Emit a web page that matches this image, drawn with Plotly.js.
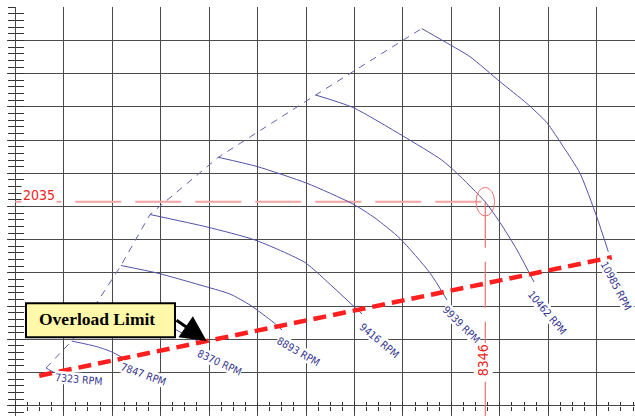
<!DOCTYPE html>
<html><head><meta charset="utf-8">
<script src="https://cdn.plot.ly/plotly-3.0.1.min.js"></script>
<style>html,body{margin:0;padding:0;background:#fff}#chart{width:635px;height:416px}</style>
</head><body><div id="chart"></div>
<script>
// ---- data (grid units: x = flow divisions, y = head divisions) ----
const speedLabels = ['7323 RPM','7847 RPM','8370 RPM','8893 RPM','9416 RPM','9939 RPM','10462 RPM','10985 RPM'];
const flow7323  = [0.634, 0.716, 0.799];
const head7323  = [1.136, 1.066, 1.000];
const flow7847  = [1.164, 1.686, 1.996, 2.224];
const head7847  = [1.949, 1.777, 1.617, 1.437];
const flow8370  = [1.666, 2.367, 2.987, 3.399, 3.812, 3.895];
const head8370  = [3.063, 2.822, 2.551, 2.220, 1.919, 1.873];
const flow8893  = [2.182, 2.925, 3.812, 4.431, 4.844, 5.319, 5.505];
const head8893  = [4.223, 3.997, 3.636, 3.364, 3.033, 2.521, 2.280];
const flow9416  = [2.780, 3.957, 4.947, 5.979, 6.557, 6.846, 7.156];
const head9416  = [5.759, 5.383, 4.991, 4.313, 3.575, 3.184, 2.762];
const flow9939  = [4.190, 4.989, 6.021, 6.970, 7.424, 7.940, 8.559, 8.910];
const head9939  = [7.482, 7.205, 6.699, 6.075, 5.654, 5.036, 3.997, 3.184];
const flow10462 = [6.200, 6.970, 8.002, 8.801, 9.110, 9.695, 10.004, 10.355, 10.706];
const head10462 = [9.358, 8.982, 8.123, 7.401, 7.009, 6.145, 5.518, 4.690, 3.726];
const flow10985 = [8.388, 8.801, 9.385, 10.004, 10.555, 10.968, 11.311, 11.655, 12.000, 12.239];
const head10985 = [11.361, 11.015, 10.512, 9.759, 9.108, 8.530, 7.801, 7.000, 5.693, 4.639];
const overloadFlow = [0.495, 12.310];
const overloadHead = [0.904, 4.470];
const opFlow = 9.70, opHead = 6.145;
const opHeadLabel = '2035', opFlowLabel = '8346';
const overloadLabel = 'Overload Limit';

// ---- presentation ----
const curvesX = [flow7323, flow7847, flow8370, flow8893, flow9416, flow9939, flow10462, flow10985];
const curvesY = [head7323, head7847, head8370, head8893, head9416, head9939, head10462, head10985];
const labelShift = [[24,6.5],[20.5,15.5],[15,18.5],[16,21],[17,26],[14,24],[13,30],[7.7,33.3]];
const labelAngle = [5,20,25,30,40,45,50,62];
const X0 = -0.171, X1 = 12.79, Y0 = -0.310, Y1 = 12.009;
const curveColor = '#5252a8', labelColor = '#363690';
const narrow = '"Liberation Sans Narrow", "Arial Narrow", "DejaVu Sans Condensed", "Liberation Sans", sans-serif';

const traces = [];
traces.push({x: curvesX.map(c => c[0]), y: curvesY.map(c => c[0]), mode:'lines',
  line:{color:'#6262b4', width:1, dash:'7px,6px'}, hoverinfo:'skip'});
curvesX.forEach((cx, i) => traces.push({x: cx, y: curvesY[i], mode:'lines',
  line:{color:curveColor, width:1, shape:'spline', smoothing:0.6}, hoverinfo:'skip'}));
traces.push({x: overloadFlow, y: overloadHead, mode:'lines',
  line:{color:'#ff1f1f', width:4.5, dash:'13px,7px'}, hoverinfo:'skip'});
traces.push({x: [], y: [], xaxis:'x2', yaxis:'y2', mode:'markers', hoverinfo:'skip'});

const slope = (overloadHead[1]-overloadHead[0])/(overloadFlow[1]-overloadFlow[0]);
const tipX = 3.95, tipY = overloadHead[0] + (tipX-overloadFlow[0])*slope;

const annotations = speedLabels.map((t, i) => {
  const cx = curvesX[i], cy = curvesY[i];
  return {x: cx[cx.length-1], y: cy[cy.length-1], xref:'x', yref:'y', text: t, showarrow:false,
    textangle: labelAngle[i], xshift: labelShift[i][0], yshift: -labelShift[i][1],
    font:{family: narrow, size:10.5, color: labelColor}, bgcolor:'#ffffff', borderpad:0};
});
annotations.push({x: 0, y: opHead, xref:'x', yref:'y', text: opHeadLabel, showarrow:false,
  xshift: 24, yshift: 6.5, font:{family: narrow, size:14, color:'#ee2222'}, bgcolor:'#ffffff', borderpad:1});
annotations.push({x: opFlow, y: 0, xref:'x', yref:'y', text: opFlowLabel, showarrow:false, textangle:-90,
  xshift: -2, yshift: 45.7, font:{family: narrow, size:14, color:'#ee2222'}, bgcolor:'#ffffff', borderpad:1});
annotations.push({x: 1.686, y: 2.611, xref:'x', yref:'y', text: '<b>'+overloadLabel+'</b>', showarrow:false,
  font:{family:'"Liberation Serif", "Times New Roman", serif', size:17.5, color:'#000'}});
annotations.push({x: tipX, y: tipY, ax: 3.296, ay: 2.602, axref:'x', ayref:'y', xref:'x', yref:'y',
  text:'', showarrow:true, arrowhead:2, arrowsize:1.7, arrowwidth:3, arrowcolor:'#000', standoff:0, startstandoff:0});

const shapes = [
  {type:'line', xref:'x', yref:'y', x0:0, x1:opFlow, y0:opHead, y1:opHead, layer:'between',
   line:{color:'#f4a3a3', width:2, dash:'46px,14px'}},
  {type:'line', xref:'x', yref:'y', x0:opFlow, x1:opFlow, y0:opHead, y1:Y0, layer:'between',
   line:{color:'#f07070', width:1.2, dash:'46px,14px'}},
  {type:'circle', xref:'x', yref:'y', x0:opFlow-0.192, x1:opFlow+0.192, y0:opHead-0.431, y1:opHead+0.431,
   layer:'above', line:{color:'#f07070', width:1}},
  {type:'rect', xref:'x', yref:'y', x0:0.221, x1:3.296, y0:2.060, y1:3.084, layer:'above',
   fillcolor:'#fff8a8', line:{color:'#000', width:2}}
];

const gridColor = '#4a4a4a', tickColor = '#333';
const xpos = (416-405.7)/409, ypos = (15.3-7)/628;
function xa(side, grid){ return {range:[X0,X1], anchor:'free', position:xpos, showgrid:grid, gridcolor:gridColor, gridwidth:1,
  dtick:1, tick0:0, zeroline:false, showline:false, showticklabels:false, ticks:side, ticklen:4, tickcolor:tickColor, tickwidth:1,
  minor:{ticks:side, ticklen:4, dtick:0.25, tick0:0, tickcolor:tickColor, tickwidth:1, showgrid:false}, fixedrange:true}; }
function ya(side, grid){ return {range:[Y0,Y1], anchor:'free', position:ypos, showgrid:grid, gridcolor:gridColor, gridwidth:1,
  dtick:1, tick0:0, zeroline:false, showline:false, showticklabels:false, ticks:side, ticklen:7.5, tickcolor:tickColor, tickwidth:1,
  minor:{ticks:side, ticklen:7.5, dtick:0.2, tick0:0, tickcolor:tickColor, tickwidth:1, showgrid:false}, fixedrange:true}; }
const x2 = Object.assign(xa('inside', false), {overlaying:'x'});
const y2 = Object.assign(ya('inside', false), {overlaying:'y'});

const layout = {width:635, height:416, margin:{l:7, r:0, t:7, b:0, autoexpand:false},
  paper_bgcolor:'#fff', plot_bgcolor:'#fff', showlegend:false,
  xaxis: xa('outside', true), yaxis: ya('outside', true), xaxis2: x2, yaxis2: y2,
  shapes: shapes, annotations: annotations};
Plotly.newPlot('chart', traces, layout, {staticPlot:true});
</script></body></html>
